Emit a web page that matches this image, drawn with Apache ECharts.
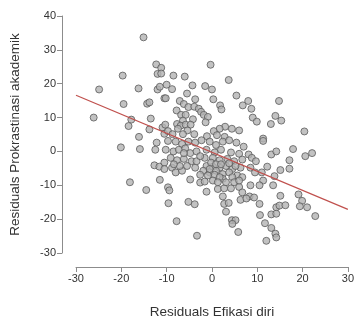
<!DOCTYPE html>
<html>
<head>
<meta charset="utf-8">
<script src="https://cdn.jsdelivr.net/npm/echarts@6/dist/echarts.min.js"></script>
<style>
  html, body { margin: 0; padding: 0; background: #fff; }
  #main { width: 357px; height: 324px; }
</style>
</head>
<body>
<div id="main"></div>
<script>
"use strict"

// residual data
const residX = [
  -15.1, -12.3, -11.2, -12.0, -11.2, -19.7, -24.9, -16.2, -12.0, -11.5,
  -10.5, -19.5, -14.3, -13.8, -26.1, -17.8, -13.5, -18.4, -13.8, -10.9,
  -10.5, -16.1, -0.3, -8.5, -6.0, 3.7, -10.0, -8.8, -4.3, -1.5,
  0.0, -5.5, -10.2, -3.7, 0.3, 5.4, -7.1, -6.2, 1.8, 6.8,
  -5.2, -3.9, -2.9, -7.8, -2.4, 2.1, -6.8, -5.8, -4.2, -1.8,
  -0.9, -6.4, -1.4, -7.7, -6.9, -5.8, -4.7, -10.3, 2.9, 1.7,
  4.4, 6.0, 0.4, -7.5, -5.4, -9.7, -8.7, -6.4, -3.9, -1.1,
  1.1, 2.8, 14.8, 8.0, 8.7, 9.0, 9.9, 14.0, 15.3, 13.0,
  20.4, 11.3, -20.1, -15.9, -12.2, -12.5, -12.7, -11.6, -10.5, -10.5,
  -18.1, -11.5, -14.5, -9.7, -9.4, -9.6, -5.2, -3.8, -7.8, -3.3,
  -9.7, -8.0, -6.6, -5.2, -3.7, -2.3, -0.5, 0.9, 2.4, 3.8,
  5.4, 7.0, -10.2, -8.5, -7.3, -5.9, -4.8, -3.4, -1.2, 0.6,
  2.0, 4.2, 6.0, -9.1, -7.7, -6.2, -4.5, -1.6, 0.2, 1.7,
  3.4, 4.9, 6.7, -8.8, -5.5, -3.7, -1.2, 0.2, 1.7, 3.1,
  4.5, 6.3, -8.0, -6.6, -1.9, -0.5, 0.9, 2.4, 3.8, 5.6,
  -4.8, -2.6, -1.6, 2.4, 4.5, 6.7, -1.2, 1.3, 2.7, 4.2,
  6.0, 6.7, 2.4, 6.3, 2.7, 3.7, 3.1, 4.4, 5.2, 4.5,
  5.8, 11.3, 8.1, 8.8, 9.7, 8.5, 9.5, 11.0, 13.1, 14.2,
  17.9, 20.6, 22.1, 17.1, 17.1, 15.1, 12.2, 13.8, 11.3, 8.5,
  10.5, 13.5, 8.3, 9.3, 15.1, 19.1, 10.5, 19.9, 19.4, 21.0,
  14.2, 14.9, 16.2, 13.1, 14.2, 10.6, 22.8, 11.7, 13.1, 14.0,
  14.2, 12.0, 7.6, -0.2, 0.9, 2.0, -0.5, 0.6, 1.7, 3.1,
  0.2, 1.3, -0.9, -2.6, -3.4, -2.6, -6.2, -7.1, -8.4, 3.8,
  5.2, 4.9, 6.0
];
const residY = [
  33.7, 25.7, 24.7, 22.9, 23.0, 22.4, 18.3, 18.6, 18.3, 19.1,
  15.7, 14.0, 14.1, 14.5, 10.0, 9.4, 9.7, 7.5, 6.5, 7.1,
  5.2, 4.3, 25.6, 22.4, 22.1, 21.1, 19.7, 18.4, 19.5, 19.3,
  18.3, 17.1, 15.7, 15.4, 15.4, 16.5, 14.9, 14.0, 13.6, 13.6,
  13.1, 13.2, 12.6, 12.1, 11.7, 12.4, 10.8, 10.8, 9.5, 10.8,
  10.2, 9.1, 8.6, 8.1, 7.6, 7.9, 7.9, 7.9, 7.3, 6.7,
  6.7, 6.2, 6.0, 6.7, 6.2, 6.0, 5.1, 5.1, 5.1, 4.5,
  4.8, 4.3, 14.9, 14.9, 12.6, 10.0, 8.8, 10.5, 9.1, 8.1,
  5.9, 3.8, 1.2, 0.7, 2.6, 0.5, -4.1, -4.5, -3.3, -5.2,
  -9.1, -8.4, -11.4, -10.6, -11.5, -15.3, -14.9, -15.6, -20.6, -24.9,
  3.1, 2.9, 2.2, 2.9, 2.6, 3.3, 2.9, 1.9, 2.9, 3.3,
  2.6, 1.4, 0.5, 0.0, 0.5, 0.9, -0.5, 0.0, 0.5, -0.3,
  0.5, -0.3, -0.7, -1.9, -2.6, -2.2, -2.9, -1.9, -1.9, -2.6,
  -2.2, -2.9, -2.4, -4.8, -4.3, -4.8, -4.3, -4.5, -4.8, -4.3,
  -5.2, -4.8, -6.2, -5.7, -5.7, -6.2, -5.7, -6.7, -6.2, -7.1,
  -8.3, -9.2, -8.9, -8.1, -7.6, -7.6, -11.9, -11.1, -10.9, -10.9,
  -10.5, -12.1, -13.3, -14.3, -15.5, -15.2, -17.8, -20.3, -20.3, -21.4,
  -23.8, 3.1, -0.9, -1.9, -2.9, -4.8, -6.2, -6.2, -0.9, 0.0,
  0.7, -1.4, -0.5, -2.6, -5.1, -5.5, -4.5, -7.3, -8.6, -10.0,
  -10.0, -10.0, -13.3, -13.6, -13.1, -12.7, -15.5, -14.6, -16.2, -16.5,
  -16.5, -16.0, -15.9, -18.6, -18.4, -18.8, -19.1, -21.2, -22.6, -24.3,
  -25.4, -26.4, -13.9, -3.3, -3.8, -3.8, -5.2, -6.9, -7.6, -9.1,
  -8.6, -9.1, -7.1, -6.9, -2.9, -1.4, -0.5, -4.3, -3.8, -3.5,
  -4.3, -9.1, -8.6
];
// garis regresi
const fitX = [-30, 30];
const fitY = [16.6, -17.1];

const xTicks = [-30, -20, -10, 0, 10, 20, 30];
const yTicks = [-30, -20, -10, 0, 10, 20, 30, 40];

let points = residX.map((x, i) => [x, residY[i]]);
let fitLine = fitX.map((x, i) => [x, fitY[i]]);

let axisColor = "#8c8c8c";
let textColor = "#333";
let fontName = "Liberation Sans, Arial, sans-serif";

var myChart = echarts.init(document.getElementById("main"));
var option = {
    animation: false,
    grid: {
        left: 73,
        right: 5,
        top: 16,
        bottom: 66
    },
    xAxis: {
        type: "value",
        min: xTicks[0],
        max: xTicks[xTicks.length - 1],
        interval: 10,
        offset: 14,
        name: "Residuals Efikasi diri",
        nameLocation: "middle",
        nameGap: 38,
        nameTextStyle: { color: textColor, fontSize: 13.5, fontFamily: fontName },
        axisLine: { show: true, onZero: false, lineStyle: { color: axisColor, width: 1 } },
        axisTick: { show: true, length: 5, lineStyle: { color: axisColor } },
        axisLabel: { color: textColor, fontSize: 11, fontFamily: fontName, margin: 6 },
        splitLine: { show: false }
    },
    yAxis: {
        type: "value",
        min: yTicks[0],
        max: yTicks[yTicks.length - 1],
        interval: 10,
        offset: 14,
        name: "Residuals Prokrastinasi akademik",
        nameLocation: "middle",
        nameGap: 40,
        nameTextStyle: { color: textColor, fontSize: 13.5, fontFamily: fontName },
        axisLine: { show: true, onZero: false, lineStyle: { color: axisColor, width: 1 } },
        axisTick: { show: true, length: 5, lineStyle: { color: axisColor } },
        axisLabel: { color: textColor, fontSize: 11, fontFamily: fontName, margin: 6 },
        splitLine: { show: false }
    },
    series: [{
            type: "scatter",
            data: points,
            symbol: "circle",
            symbolSize: 7,
            itemStyle: {
                color: "#b3b3b3",
                borderColor: "#5a5a5a",
                borderWidth: 1
            }
        },
        {
            type: "line",
            data: fitLine,
            symbol: "none",
            lineStyle: { color: "#c0504d", width: 1.2 },
            z: 3
        }
    ]
};
myChart.setOption(option);
</script>
</body>
</html>
